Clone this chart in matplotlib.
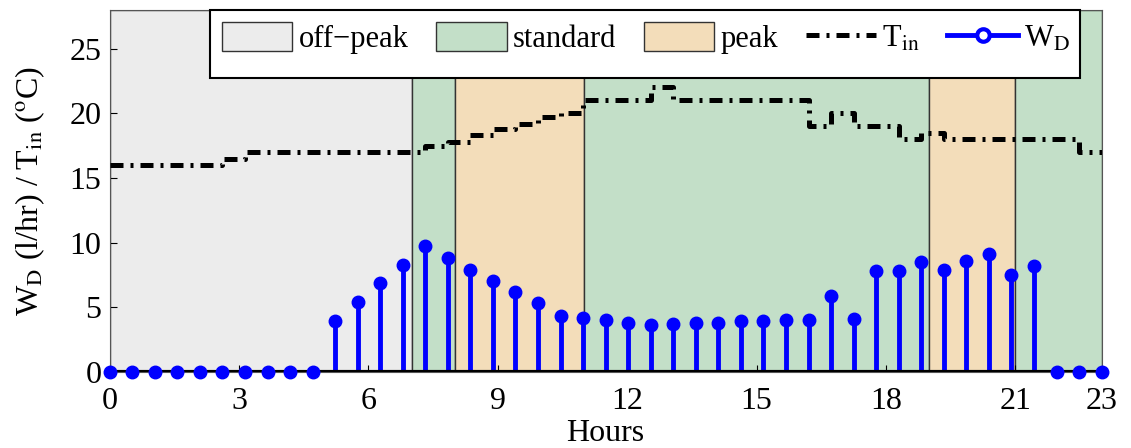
import matplotlib
matplotlib.use("Agg")
import matplotlib.pyplot as plt
import numpy as np
from matplotlib.patches import Patch, Rectangle
from matplotlib.lines import Line2D

plt.rcParams['font.family'] = 'Liberation Serif'
plt.rcParams['mathtext.fontset'] = 'stix'

# time grid: 45 samples over the day (0 .. 23 h)
hours = np.linspace(0, 23, 45)

# water draw W_D (l/hr)
w_d = [0, 0, 0, 0, 0, 0, 0, 0, 0, 0,
       3.9, 5.4, 6.9, 8.3, 9.7, 8.8, 7.9, 7.0, 6.2, 5.3,
       4.3, 4.2, 4.0, 3.8, 3.6, 3.7, 3.8, 3.8, 3.9, 3.9,
       4.0, 4.0, 5.9, 4.1, 7.8, 7.8, 8.5, 7.9, 8.6, 9.1,
       7.5, 8.2, 0, 0, 0]

# inlet temperature T_in (deg C)
t_in = [16, 16, 16, 16, 16, 16.5, 17, 17, 17, 17,
        17, 17, 17, 17, 17.5, 17.8, 18.3, 18.8, 19.2, 19.7,
        20, 21, 21, 21, 22, 21, 21, 21, 21, 21,
        21, 19, 20, 19, 19, 18, 18.5, 18, 18, 18,
        18, 18, 18, 17, 17]

# tariff periods (start, end, name)
periods = [(0, 7, 'off-peak'), (7, 8, 'standard'), (8, 11, 'peak'),
           (11, 19, 'standard'), (19, 21, 'peak'), (21, 23, 'standard')]
period_colors = {'off-peak': '#ececec', 'standard': '#c3dfc8', 'peak': '#f3ddba'}

dashdot = (0, (2.6, 1.4, 0.6, 1.4))

fig = plt.figure(figsize=(11.31, 4.48), dpi=100)
ax = fig.add_axes([0.097, 0.17, 0.877, 0.808])

for start, end, name in periods:
    ax.axvspan(start, end, facecolor=period_colors[name], edgecolor='#333333', lw=1, zorder=0)

ax.plot(hours, t_in, color='black', lw=3.6, linestyle=dashdot,
        drawstyle='steps-post', zorder=3)

ax.vlines(hours, 0, w_d, color='blue', lw=3.5, zorder=4)
ax.plot(hours, w_d, 'o', color='blue', markersize=9, zorder=5, clip_on=False)
ax.axhline(0, color='black', lw=3, zorder=4)

ax.set_xlim(0, 23)
ax.set_ylim(0, 28)
ax.set_xticks([0, 3, 6, 9, 12, 15, 18, 21, 23])
ax.set_yticks([0, 5, 10, 15, 20, 25])
ax.tick_params(direction='in', labelsize=23, length=5)
ax.tick_params(axis='x', pad=11)
ax.tick_params(axis='y', pad=6)
for s in ax.spines.values():
    s.set_color('#555555')
ax.set_xlabel('Hours', fontsize=23, labelpad=2)
ax.set_ylabel(r'W$_\mathrm{D}$ (l/hr) / T$_\mathrm{in}$ ($^\mathrm{o}$C)', fontsize=23, labelpad=16)

handles = [Patch(facecolor=period_colors['off-peak'], edgecolor='#333333'),
           Patch(facecolor=period_colors['standard'], edgecolor='#333333'),
           Patch(facecolor=period_colors['peak'], edgecolor='#333333'),
           Line2D([0], [0], color='black', lw=3.6, linestyle=dashdot),
           Line2D([0], [0], color='blue', lw=3.5, marker='o', markersize=9,
                  markerfacecolor='white', markeredgewidth=3)]
labels = ['off\u2212peak', 'standard', 'peak', r'T$_\mathrm{in}$', r'W$_\mathrm{D}$']

# legend frame drawn separately (taller box, entries at the top as in MATLAB)
box = Rectangle((210 / 1131, 1 - 78 / 448), 870 / 1131, 68 / 448,
                transform=fig.transFigure, facecolor='white', edgecolor='black',
                lw=1.5, zorder=10)
ax.add_artist(box)
box.set_clip_on(False)

leg = ax.legend(handles, labels, loc='upper left',
                bbox_to_anchor=(216 / 1131, 1 - 70 / 448, 860 / 1131, 54 / 448),
                bbox_transform=fig.transFigure, mode='expand', ncol=5,
                fontsize=22, frameon=False, handlelength=2.3, handleheight=1.1,
                handletextpad=0.2, columnspacing=0.3, borderpad=0.2,
                borderaxespad=0, numpoints=1)
leg.set_zorder(11)

fig.savefig('out.png', dpi=100)
